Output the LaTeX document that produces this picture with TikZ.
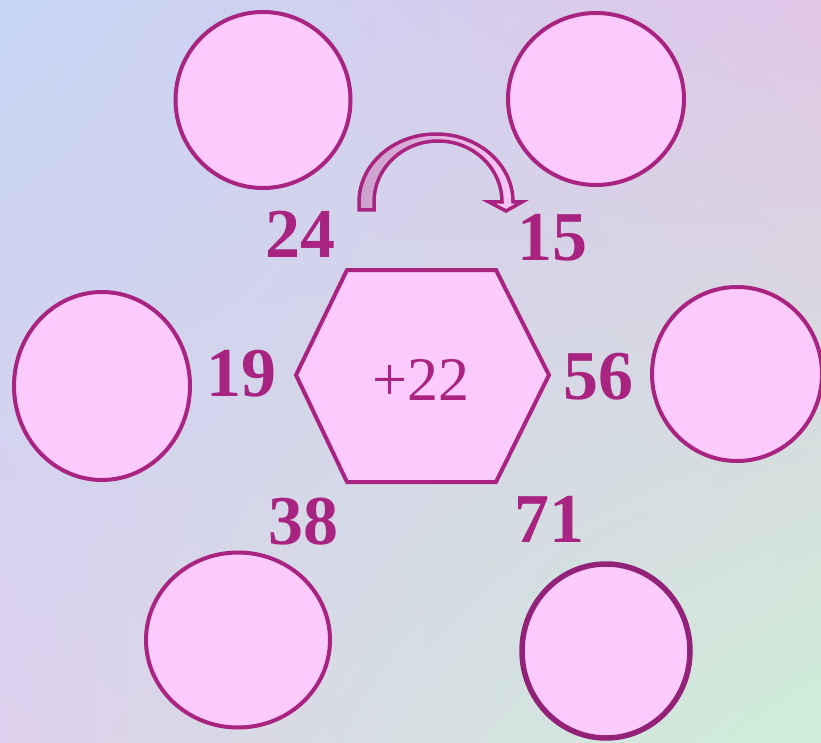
\documentclass[tikz,border=0pt]{standalone}
\usepackage{fontspec}
\setmainfont{Liberation Serif}
\usetikzlibrary{shapes.geometric,shadings}
\definecolor{plum}{RGB}{168,36,128}
\definecolor{darkplum}{RGB}{146,34,120}
\definecolor{pinkfill}{RGB}{253,202,253}
\definecolor{bgTL}{RGB}{198,214,246}
\definecolor{bgTR}{RGB}{225,198,230}
\definecolor{bgBL}{RGB}{222,208,236}
\definecolor{bgBR}{RGB}{206,238,216}
\definecolor{bandL}{RGB}{204,160,204}
\definecolor{bandR}{RGB}{250,200,250}
\begin{document}
\begin{tikzpicture}[x=1pt,y=1pt,
  ring/.style={ellipse, draw=plum, line width=4pt, fill=pinkfill, inner sep=0pt},
  num/.style={font=\fontsize{70}{70}\selectfont\bfseries, text=plum, inner sep=0pt, anchor=base}]
\useasboundingbox (0,0) rectangle (821,-743);
\clip (0,0) rectangle (821,-743);
\shade[upper left=bgTL, upper right=bgTR, lower left=bgBL, lower right=bgBR] (0,0) rectangle (821,-743);
% circles
\node[ring, minimum width=175, minimum height=176] (c1) at (263,-100) {};
\node[ring, minimum width=176, minimum height=172] (c2) at (596,-99) {};
\node[ring, minimum width=176, minimum height=188] (c3) at (102,-386) {};
\node[ring, minimum width=170, minimum height=174] (c4) at (737,-374) {};
\node[ring, minimum width=184, minimum height=175] (c5) at (238,-640) {};
\node[ring, draw=darkplum, line width=5.5pt, minimum width=168, minimum height=174] (c6) at (606,-651) {};
% hexagon
\draw[plum, line width=4pt, fill=pinkfill, line join=miter]
  (347,-270) -- (496,-270) -- (549,-375) -- (496,-482) -- (347,-482) -- (296,-375) -- cycle;
\node[font=\fontsize{62}{62}\selectfont, text=plum, inner sep=0pt, anchor=base] (hex) at (421,-400) {+22};
% numbers
\node[num] (n24) at (300,-258) {24};
\node[num] (n15) at (552,-260) {15};
\node[num] (n19) at (241,-396) {19};
\node[num] (n56) at (598,-399) {56};
\node[num] (n38) at (303,-544) {38};
\node[num] (n71) at (549,-542) {71};
% curved arrow
\draw[plum, line width=3.5pt, line join=miter, left color=bandL, right color=bandR]
  (359,-210) -- (359,-202)
  arc[start angle=180, end angle=0, x radius=77, y radius=68]
  -- (522,-202) -- (506,-211) -- (489,-202) -- (502,-202)
  arc[start angle=0, end angle=180, x radius=64, y radius=61]
  -- (374,-210) -- cycle;
\end{tikzpicture}
\end{document}
